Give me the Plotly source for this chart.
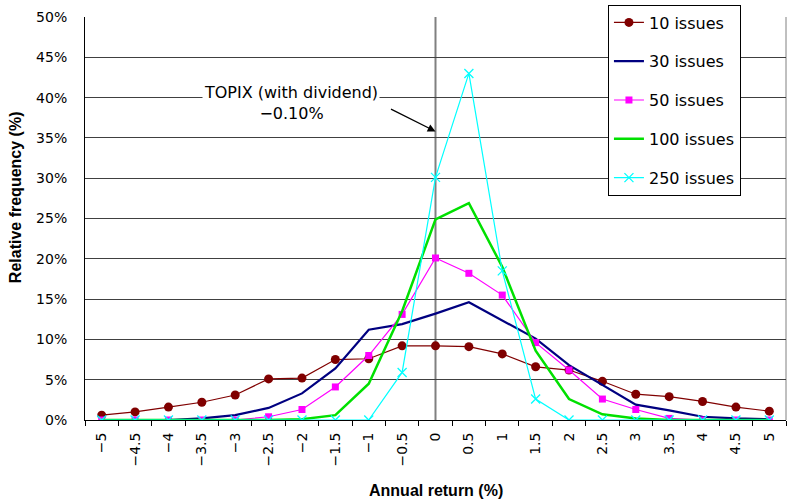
import plotly.graph_objects as go

categories = [-5, -4.5, -4, -3.5, -3, -2.5, -2, -1.5, -1, -0.5, 0, 0.5, 1, 1.5, 2, 2.5, 3, 3.5, 4, 4.5, 5]
tick_labels = ["−5", "−4.5", "−4", "−3.5", "−3", "−2.5", "−2", "−1.5", "−1", "−0.5", "0", "0.5", "1",
               "1.5", "2", "2.5", "3", "3.5", "4", "4.5", "5"]

s10 = [0.6, 1.0, 1.6, 2.2, 3.1, 5.1, 5.2, 7.5, 7.6, 9.2, 9.2, 9.1, 8.2, 6.6, 6.2, 4.8, 3.2, 2.9, 2.3, 1.6, 1.1]
s30 = [0.0, 0.0, 0.0, 0.2, 0.6, 1.5, 3.3, 6.4, 11.2, 11.9, 13.2, 14.6, 12.3, 10.1, 6.8, 4.4, 1.9, 1.2, 0.4, 0.2, 0.1]
s50 = [0.0, 0.0, 0.0, 0.0, 0.0, 0.4, 1.3, 4.1, 8.0, 13.1, 20.1, 18.2, 15.5, 9.6, 6.2, 2.6, 1.3, 0.2, 0.0, 0.0, 0.0]
s100 = [0.0, 0.0, 0.0, 0.0, 0.0, 0.0, 0.1, 0.6, 4.5, 13.5, 24.9, 26.9, 19.0, 8.6, 2.6, 0.7, 0.2, 0.0, 0.0, 0.0, 0.0]
s250 = [0.0, 0.0, 0.0, 0.0, 0.0, 0.0, 0.0, 0.0, 0.0, 5.9, 30.1, 43.0, 18.5, 2.6, 0.0, 0.0, 0.0, 0.0, 0.0, 0.0, 0.0]

y_ticks = [0, 5, 10, 15, 20, 25, 30, 35, 40, 45, 50]
y_labels = [f"{v}%" for v in y_ticks]

FONT = "DejaVu Sans"
TITLE_FONT = "Liberation Sans"

fig = go.Figure()
fig.add_trace(go.Scatter(x=categories, y=s10, name="10 issues", mode="lines+markers", legendgroup="a",
                         line=dict(color="#800000", width=1.2),
                         marker=dict(symbol="circle", size=9, color="#800000")))
fig.add_trace(go.Scatter(x=categories, y=s30, name="30 issues", mode="lines", legendgroup="b",
                         line=dict(color="#000080", width=2.2)))
fig.add_trace(go.Scatter(x=categories, y=s50, name="50 issues", mode="lines+markers", legendgroup="c",
                         line=dict(color="#FF00FF", width=1.2),
                         marker=dict(symbol="square", size=7, color="#FF00FF")))
fig.add_trace(go.Scatter(x=categories, y=s100, name="100 issues", mode="lines", legendgroup="d",
                         line=dict(color="#00E000", width=2.5)))
fig.add_trace(go.Scatter(x=categories, y=s250, name="250 issues", mode="lines+markers", legendgroup="e",
                         line=dict(color="#00FFFF", width=1.2),
                         marker=dict(symbol="x-thin-open", size=9, color="#00FFFF", line=dict(width=1.3, color="#00FFFF"))))

fig.add_shape(type="line", xref="x", yref="y", x0=0, x1=0, y0=0, y1=50,
              line=dict(color="#808080", width=2), layer="below")
fig.add_shape(type="line", xref="paper", yref="paper", x0=1, x1=1, y0=0, y1=1,
              line=dict(color="#808080", width=1), layer="below")

# annotation text and arrow
fig.add_annotation(x=-2.16, y=39.3, xref="x", yref="y", text="TOPIX (with dividend)<br>−0.10%",
                   showarrow=False, bgcolor="white", borderpad=1,
                   font=dict(family=FONT, size=16, color="black"))
fig.add_annotation(x=0, y=35.8, xref="x", yref="y", text="",
                   showarrow=True, axref="pixel", ayref="pixel", ax=-46, ay=-23,
                   arrowhead=2, arrowsize=1.2, arrowwidth=1.3, arrowcolor="black")

# axis titles
fig.add_annotation(x=0.5, y=0, xref="paper", yref="paper", xanchor="center", yanchor="middle",
                   yshift=-70, showarrow=False, text="<b>Annual return (%)</b>",
                   font=dict(family=TITLE_FONT, size=16, color="black"))
fig.add_annotation(x=0, y=0.553, xref="paper", yref="paper", xanchor="center", yanchor="middle",
                   xshift=-70, showarrow=False, textangle=-90, text="<b>Relative frequency (%)</b>",
                   font=dict(family=TITLE_FONT, size=16, color="black"))

fig.update_layout(
    width=789, height=500,
    margin=dict(l=85, r=3, t=17, b=80),
    plot_bgcolor="white", paper_bgcolor="white",
    font=dict(family=FONT, size=14, color="black"),
    showlegend=True,
    legend=dict(x=0.746, y=1.031, xanchor="left", yanchor="top", bgcolor="white",
                bordercolor="black", borderwidth=1, tracegroupgap=15,
                entrywidth=92, entrywidthmode="pixels",
                font=dict(family=FONT, size=16, color="black")),
    xaxis=dict(range=[-5.25, 5.25], tickmode="array", tickvals=categories, ticktext=tick_labels,
               tickangle=-90, ticks="", showgrid=False, zeroline=False, automargin=False,
               showline=True, linecolor="black", linewidth=1, ticklabelstandoff=6,
               minor=dict(tickmode="linear", tick0=-5.25, dtick=0.5, ticks="outside", ticklen=5,
                          tickcolor="black", showgrid=False),
               tickfont=dict(family=FONT, size=14)),
    yaxis=dict(range=[0, 50], tickmode="array", tickvals=y_ticks, ticktext=y_labels,
               showgrid=True, gridcolor="#404040", gridwidth=1, zeroline=False, automargin=False,
               showline=True, linecolor="black", linewidth=1, ticks="", ticklabelstandoff=14,
               tickfont=dict(family=FONT, size=14)),
)

fig.write_html("out.html")
